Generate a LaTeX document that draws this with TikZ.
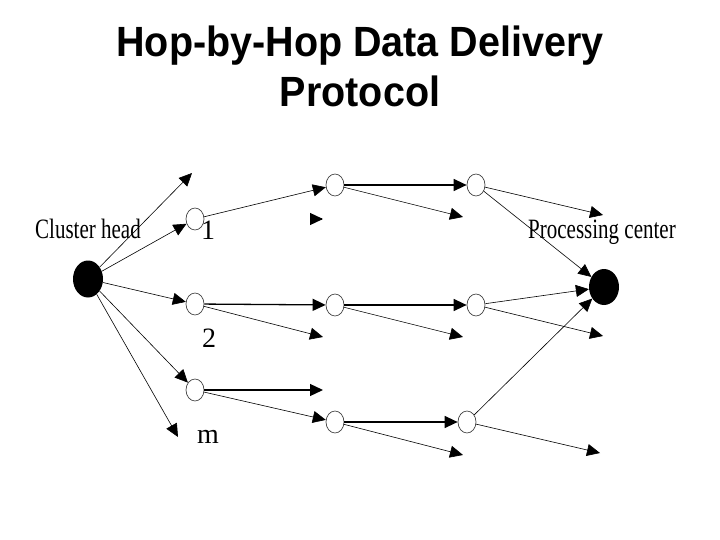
\documentclass[tikz,border=0pt]{standalone}
\usepackage{fontspec}
\setmainfont{Liberation Serif}
\newfontfamily\titlefont{Liberation Sans}
\usetikzlibrary{arrows.meta,shapes.geometric}

\begin{document}
\begin{tikzpicture}[x=1pt, y=-1pt, >={Triangle[length=13pt,width=12pt]},
    hop/.style={ellipse, draw=black!75, line width=0.7pt, minimum width=18pt, minimum height=22pt, inner sep=0pt},
    sink/.style={ellipse, fill=black, minimum width=30pt, minimum height=37pt, inner sep=0pt},
    link/.style={->, line width=1.3pt},
    side/.style={->, line width=0.6pt},
    lbl/.style={inner sep=0pt, font=\fontsize{28}{30}\selectfont},
    ttl/.style={inner sep=0pt, anchor=base, font=\titlefont\bfseries\fontsize{39.5}{44}\selectfont}]
  \useasboundingbox (0,0) rectangle (720,540);
  \node[ttl] (title1) at (360,57) {\scalebox{1}[1.07]{Hop-by-Hop Data Delivery}};
  \node[ttl] (title2) at (360,107) {\scalebox{1}[1.07]{Protocol}};

  % end nodes
  \node[sink] (ch) at (88,279) {};
  \node[sink, minimum height=36pt] (pc) at (604,287) {};
  \node[lbl, anchor=base west] (chl) at (35,238) {\scalebox{0.75}[1]{Cluster head}};
  \node[lbl, anchor=base west] (pcl) at (528,239) {\scalebox{0.75}[1]{Processing center}};

  % relay nodes
  \foreach \n/\x/\y in {a1/195/219, a2/195/304, a3/195/390,
                        b1/335/185, b2/335/305, b3/335/422,
                        c1/476/185, c2/476/305, c3/467/422}
    \node[hop] (\n) at (\x,\y) {};
  \node[lbl, anchor=base] (n1) at (208,240) {1};
  \node[lbl, anchor=base] (n2) at (209,347) {2};
  \node[lbl, anchor=base] (nm) at (208,443) {m};

  % free arrow ends
  \foreach \n/\x/\y in {t0/192/173, t4/178/437, s1/323/219, s2/323/337, s3/323/390,
                        u1/463/217, u2/463/337, u3/463/455,
                        v1/603/215, v2/603/336, v3/600/453}
    \coordinate (\n) at (\x,\y);

  % from cluster head
  \foreach \t in {t0, a1, a2, a3, t4}
    \draw[side] (ch) -- (\t);

  % horizontal hops
  \draw[link] (a2) -- (b2);
  \draw[link] (a3) -- (s3);
  \draw[link] (b1) -- (c1);
  \draw[link] (b2) -- (c2);
  \draw[link] (b3) -- (c3);
  \draw[link] (s1) ++(-1,0) -- (s1);

  % diagonal hops
  \draw[side] (a1) -- (b1);
  \draw[side] (a2) -- (s2);
  \draw[side] (a3) -- (b3);
  \foreach \f/\t in {b1/u1, b2/u2, b3/u3, c1/v1, c2/v2, c3/v3, c1/pc, c2/pc, c3/pc}
    \draw[side] (\f) -- (\t);
\end{tikzpicture}
\end{document}
